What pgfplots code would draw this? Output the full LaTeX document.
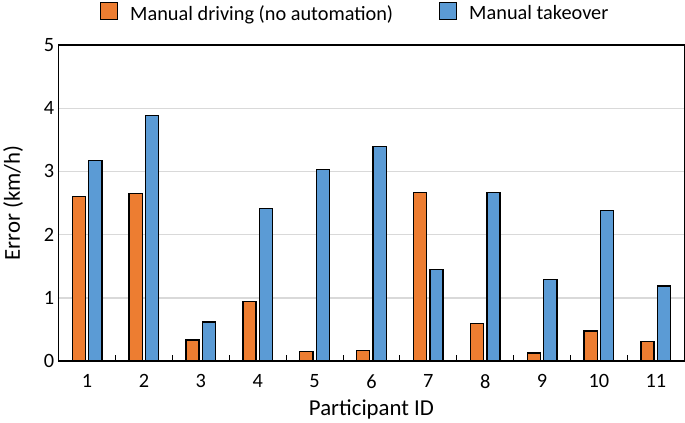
\documentclass[border=0pt]{standalone}
\usepackage{pgfplots}
\pgfplotsset{compat=1.18}
\usepackage{fontspec}
\setmainfont{Carlito}
\definecolor{myorange}{HTML}{ED7D31}
\definecolor{myblue}{HTML}{5B9BD5}
\definecolor{gridgrey}{HTML}{D9D9D9}
\begin{document}
\begin{tikzpicture}[font=\fontsize{20}{24}\selectfont]
\begin{axis}[
  scale only axis,
  width=629bp, height=318bp,
  xmin=0.5, xmax=11.5,
  ymin=0, ymax=5,
  xtick={1,2,3,4,5,6,7,8,9,10,11},
  ytick={0,1,2,3,4,5},
  major tick length=0pt,
  extra x ticks={1.5,2.5,3.5,4.5,5.5,6.5,7.5,8.5,9.5,10.5},
  extra x tick labels={},
  extra x tick style={grid=none, major tick length=6bp, tick align=inside, xtick pos=bottom, tick style={black, line width=1pt}},
  ymajorgrids,
  major grid style={gridgrey, line width=1.2pt},
  axis line style={black, line width=1.5pt},
  /pgf/number format/assume math mode=true,
  tick label style={font=\fontsize{20.5}{24}\selectfont},
  xticklabel style={yshift=-10bp},
  yticklabel style={xshift=-1bp},
  xlabel={Participant ID},
  ylabel={Error (km/h)},
  label style={font=\fontsize{23}{27}\selectfont},
  xlabel style={yshift=-4bp},
  ylabel style={yshift=14bp},
  ybar,
  bar width=0.23,
  legend columns=2,
  legend style={at={(0.474,1)}, anchor=south, yshift=19bp, draw=none, fill=none,
    font=\fontsize{20.5}{24}\selectfont,
    /tikz/every even column/.append style={column sep=44bp}},
  legend image code/.code={\path[#1, draw=none] (0bp,-6bp) rectangle (17bp,11bp);
     \draw[draw=black, fill=none, line width=1.5pt] (0bp,-6bp) rectangle (17bp,11bp);
     \path (27bp,0bp);},
]
\addplot[fill=myorange, draw=black, line width=1.4pt, bar shift=-0.145] coordinates {
(1,2.60) (2,2.65) (3,0.335) (4,0.94) (5,0.15) (6,0.17) (7,2.67) (8,0.60) (9,0.13) (10,0.48) (11,0.31)};
\addlegendentry{Manual driving (no automation)}
\addplot[fill=myblue, draw=black, line width=1.4pt, bar shift=0.145] coordinates {
(1,3.17) (2,3.88) (3,0.62) (4,2.41) (5,3.03) (6,3.39) (7,1.45) (8,2.67) (9,1.29) (10,2.38) (11,1.19)};
\addlegendentry{Manual takeover}
\end{axis}
\end{tikzpicture}
\end{document}
